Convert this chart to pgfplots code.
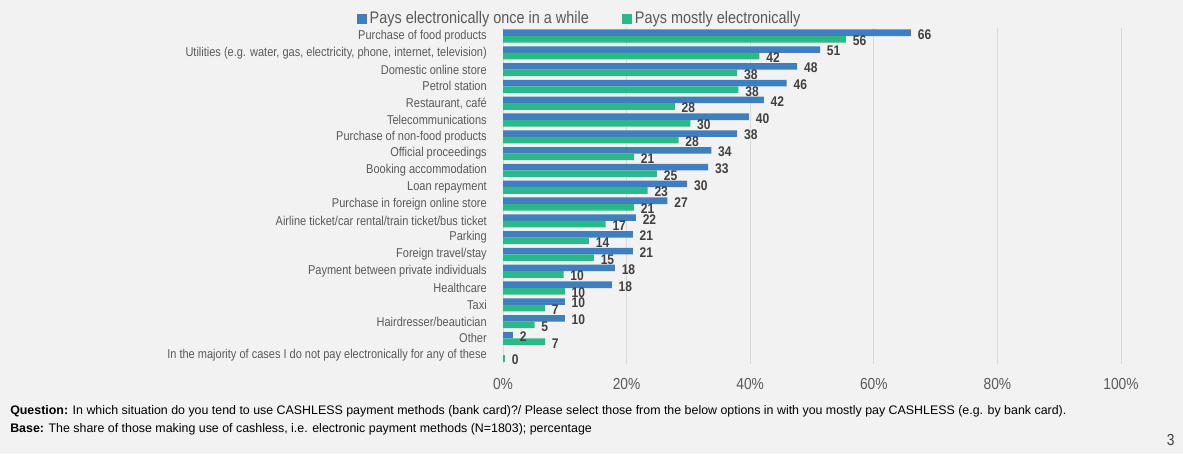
\documentclass[border=0pt]{standalone}
\usepackage{fontspec}
\setmainfont{Liberation Sans}[FakeStretch=0.86]
\newfontfamily\footfont{Liberation Sans}
\usepackage{pgfplots}
\pgfplotsset{compat=1.18}
\usepackage{pgfplotstable}
\definecolor{bg}{HTML}{F2F2F2}
\definecolor{cblue}{HTML}{3F7FBF}
\definecolor{cgreen}{HTML}{2BB98A}
\definecolor{gridgray}{HTML}{D9D9D9}
\definecolor{txtgray}{HTML}{595959}
\definecolor{labgray}{HTML}{404040}

\pgfplotstableread{
idx blue green
0 66.0 55.5
1 51.3 41.5
2 47.6 37.9
3 45.9 38.1
4 42.2 27.8
5 39.8 30.3
6 37.9 28.4
7 33.7 21.2
8 33.2 24.9
9 29.8 23.4
10 26.6 21.2
11 21.5 16.6
12 21.0 13.9
13 21.0 14.7
14 18.1 9.8
15 17.6 10.0
16 10.0 6.8
17 10.0 5.1
18 1.6 6.8
19 nan 0.3
}\data

\begin{document}
\begin{tikzpicture}
\fill[bg] (0,0) rectangle (887.25pt,-340.5pt);
\useasboundingbox (0,0) rectangle (887.25pt,-340.5pt);
\begin{axis}[
  at={(377.25pt,-20.7pt)}, anchor=north west,
  scale only axis, width=463.5pt, height=252pt,
  xmin=0, xmax=100, ymin=-0.5, ymax=19.5,
  y dir=reverse,
  xbar, bar width=0.39,
  axis line style={draw=none},
  major tick length=0pt,
  xtick={0,20,40,60,80,100},
  xticklabels={0\%,20\%,40\%,60\%,80\%,100\%},
  xmajorgrids, grid style={draw=gridgray, line width=0.75pt},
  ytick={0,...,19},
  yticklabels={
    {Purchase of food products},
    {Utilities (e.g. water, gas, electricity, phone, internet, television)},
    {Domestic online store},
    {Petrol station},
    {Restaurant, café},
    {Telecommunications},
    {Purchase of non-food products},
    {Official proceedings},
    {Booking accommodation},
    {Loan repayment},
    {Purchase in foreign online store},
    {Airline ticket/car rental/train ticket/bus ticket},
    {Parking},
    {Foreign travel/stay},
    {Payment between private individuals},
    {Healthcare},
    {Taxi},
    {Hairdresser/beautician},
    {Other},
    {In the majority of cases I do not pay electronically for any of these}},
  y tick label style={font=\fontsize{9.6}{10}\selectfont, text=txtgray, inner sep=0pt, xshift=-12pt},
  x tick label style={font=\fontsize{12}{13}\selectfont, text=txtgray, inner sep=0pt, yshift=-11pt},
  /pgf/number format/assume math mode=true,
  nodes near coords={\pgfmathprintnumber[fixed,precision=0,assume math mode=true]{\pgfplotspointmeta}},
  point meta=x,
  every node near coord/.append style={font=\bfseries\fontsize{10.5}{11}\selectfont, text=labgray, anchor=west, inner sep=1pt, xshift=4pt, yshift=-1.2pt},
  legend columns=2,
  legend style={draw=none, fill=none, at={(0.1246,1.027)}, anchor=center,
    font=\fontsize{12.6}{13}\selectfont, text=txtgray, inner sep=0pt,
    /tikz/every even column/.append style={column sep=23pt}},
  legend image code/.code={\fill[#1] (0pt,-3.75pt) rectangle (7.5pt,3.75pt);},
]
\addplot[fill=cblue, draw=none, bar shift=-0.195] table[x=blue, y=idx]{\data};
\addplot[fill=cgreen, draw=none, bar shift=0.195] table[x=green, y=idx]{\data};
\legend{Pays electronically once in a while, Pays mostly electronically}
\end{axis}
\node[anchor=base west, inner sep=0pt, font=\footfont\fontsize{9.3}{10}\selectfont] at (7.5pt,-311pt)
  {\textbf{Question:} In which situation do you tend to use CASHLESS payment methods (bank card)?/ Please select those from the below options in with you mostly pay CASHLESS (e.g. by bank card).};
\node[anchor=base west, inner sep=0pt, font=\footfont\fontsize{9.3}{10}\selectfont] at (7.5pt,-324pt)
  {\textbf{Base:} The share of those making use of cashless, i.e. electronic payment methods (N=1803); percentage};
\node[anchor=base east, inner sep=0pt, text=labgray, font=\fontsize{12}{13}\selectfont] at (881pt,-334pt) {3};
\end{tikzpicture}
\end{document}
